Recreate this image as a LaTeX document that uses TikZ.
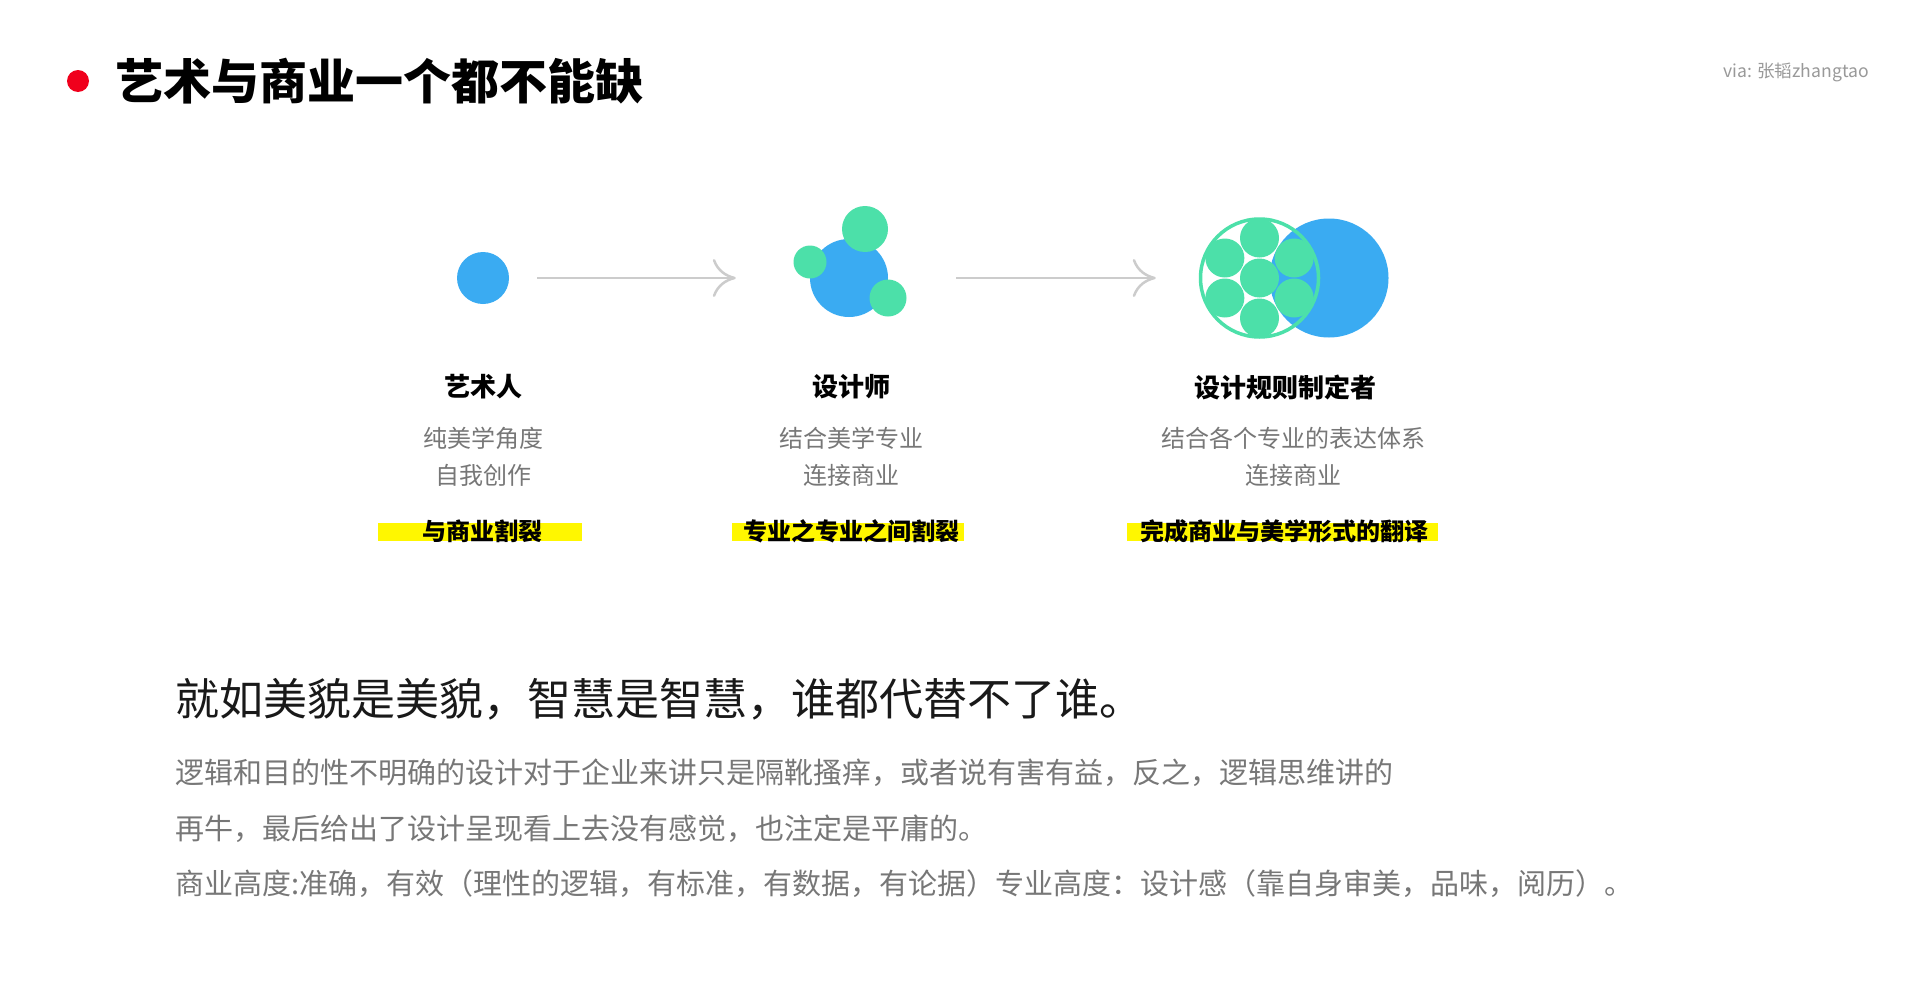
\documentclass[tikz,border=0pt]{standalone}
\usepackage{fontspec}
\setmainfont{Noto Sans CJK SC}
\usetikzlibrary{arrows.meta}
\usetikzlibrary{positioning}

\definecolor{dotred}{HTML}{F0001C}
\definecolor{skyblue}{HTML}{3AABF2}
\definecolor{mint}{HTML}{4CE0A9}
\definecolor{arrowgray}{HTML}{CCCCCC}
\definecolor{textgray}{HTML}{777777}
\definecolor{viagray}{HTML}{999999}
\definecolor{hlyellow}{HTML}{FFF700}

\newcommand{\fsz}[2]{\fontsize{#1pt}{#2pt}\selectfont}

\begin{document}
\begin{tikzpicture}[x=1pt,y=-1pt,
    ball/.style={circle,fill=#1,inner sep=0pt},
    flow/.style={arrowgray,line width=2.5pt,-{To[length=23pt,width=38pt]}},
    stagename/.style={font=\fsz{26}{30}\bfseries,text=black},
    stagedesc/.style={font=\fsz{24}{36.5},text=textgray,align=center},
    hlbar/.style={fill=hlyellow,minimum height=18pt,inner sep=0pt},
    hltext/.style={font=\fsz{24}{28}\bfseries,inner sep=0pt},
    para/.style={anchor=west,inner sep=0pt,font=\fsz{29}{34},text=textgray}]
    \fill[white] (0,0) rectangle (1920,985);
    \useasboundingbox (0,0) rectangle (1920,985);

    % header
    \node[ball=dotred,minimum size=22pt] (dot) at (78,81) {};
    \node[anchor=west,inner sep=0pt,font=\fsz{48}{56}\bfseries] (title) at (115,81) {艺术与商业一个都不能缺};
    \node[anchor=east,inner sep=0pt,font=\fsz{17.6}{20},text=viagray] (via) at (1869,72) {via: 张韬zhangtao};

    % stage 1
    \node[ball=skyblue,minimum size=52pt] (art) at (483,278) {};
    % stage 2
    \node[ball=skyblue,minimum size=78pt] (des) at (849,278) {};
    \node[ball=mint,minimum size=46pt] (des-a) at (865,229) {};
    \node[ball=mint,minimum size=33pt] (des-b) at (810,262) {};
    \node[ball=mint,minimum size=37pt] (des-c) at (888,298) {};
    % stage 3
    \node[ball=skyblue,minimum size=119pt] (big) at (1329,278) {};
    \node[circle,draw=mint,line width=3.5pt,minimum size=118pt,inner sep=0pt] (ring) at (1259.5,278) {};
    \node[ball=mint,minimum size=39pt] (cell) at (ring.center) {};
    \foreach \a in {30,90,...,330}
        \node[ball=mint,minimum size=39pt] (cell-\a) at ([shift={(\a:40)}]ring.center) {};

    \draw[flow] ([xshift=28pt]art.east) -- ([xshift=-74pt]des.west);
    \draw[flow] ([xshift=68pt]des.east) -- ([xshift=-43pt]ring.west);

    % labels
    \node[stagename] (name1) at (483,387) {艺术人};
    \node[stagename] (name2) at (851,387) {设计师};
    \node[stagename] (name3) at (1285,387) {设计规则制定者};
    \node[stagedesc] (desc1) at (483,457) {纯美学角度\\自我创作};
    \node[stagedesc] (desc2) at (851,457) {结合美学专业\\连接商业};
    \node[stagedesc] (desc3) at (1293,457) {结合各个专业的表达体系\\连接商业};

    \node[hlbar,minimum width=204pt] (bar1) at (480,532) {};
    \node[hlbar,minimum width=232pt] (bar2) at (848,532) {};
    \node[hlbar,minimum width=311pt] (bar3) at (1282,532) {};
    \node[hltext] (hl1) at (482.5,531) {与商业割裂};
    \node[hltext] (hl2) at (851.5,531) {专业之专业之间割裂};
    \node[hltext] (hl3) at (1284,531) {完成商业与美学形式的翻译};

    % bottom text
    \node[anchor=west,inner sep=0pt,font=\fsz{44}{50},text=black!90] (quote) at (175,699) {就如美貌是美貌，智慧是智慧，谁都代替不了谁。};
    \node[para] (para1) at (175,773) {逻辑和目的性不明确的设计对于企业来讲只是隔靴搔痒，或者说有害有益，反之，逻辑思维讲的};
    \node[para] (para2) at (175,829) {再牛，最后给出了设计呈现看上去没有感觉，也注定是平庸的。};
    \node[para] (para3) at (175,884) {商业高度:准确，有效（理性的逻辑，有标准，有数据，有论据）专业高度：设计感（靠自身审美，品味，阅历）。};
\end{tikzpicture}
\end{document}
